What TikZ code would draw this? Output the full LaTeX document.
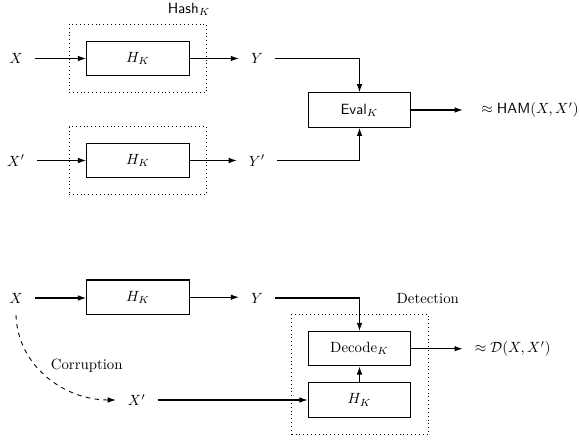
\documentclass[tikz,border=0pt]{standalone}
\usetikzlibrary{arrows.meta}
\begin{document}
\begin{tikzpicture}[x=0.675pt,y=-0.675pt,
  arr/.style={-{Latex[length=5.5pt,width=3.8pt]},line width=0.75pt},
  blk/.style={draw,line width=0.75pt,minimum width=69.3pt,minimum height=23.2pt,inner sep=0pt},
  dotbox/.style={draw,dotted,line width=0.6pt,inner sep=0pt},
  var/.style={inner sep=8pt},
  lbl/.style={inner sep=0pt}]
\useasboundingbox (0,0) rectangle (579,441);
% top part
\node[dotbox,minimum width=92.9pt,minimum height=45.9pt] (hash1) at (137.9,58.3) {};
\node[dotbox,minimum width=92.9pt,minimum height=45.6pt] (hash2) at (137.9,160.5) {};
\node[lbl] (hashlbl) at (189,9) {$\mathsf{Hash}_K$};
\node[var] (X) at (16,58.5) {$X$};
\node[blk] (hk1) at (138,58.5) {$H_K$};
\node[var] (Y) at (257,58.5) {$Y$};
\node[var] (Xp) at (16,160.5) {$X'$};
\node[blk] (hk2) at (138,160.5) {$H_K$};
\node[var] (Yp) at (257,160.5) {$Y'$};
\node[blk] (eval) at (359.5,110) {$\mathsf{Eval}_K$};
\node[lbl,anchor=west] (ham) at (481,110) {$\approx \mathsf{HAM}(X,X')$};
\draw[arr] (X) -- (hk1);
\draw[arr] (hk1) -- (Y);
\draw[arr] (Xp) -- (hk2);
\draw[arr] (hk2) -- (Yp);
\draw[arr] (Y.east) -| (eval.north);
\draw[arr] (Yp.east) -| (eval.south);
\draw[arr,shorten >=12.3pt] (eval.east) -- (ham.west);
% bottom part
\node[dotbox,minimum width=92.2pt,minimum height=80.8pt] (detbox) at (360,374.2) {};
\node[lbl] (detlbl) at (427.8,298.3) {Detection};
\node[var] (X2) at (16,298) {$X$};
\node[blk] (hk3) at (138,297.2) {$H_K$};
\node[var] (Y2) at (257,298) {$Y$};
\node[blk] (dec) at (359.5,348.7) {$\mathrm{Decode}_K$};
\node[blk] (hk4) at (359.5,400) {$H_K$};
\node[var] (Xp2) at (136.7,400) {$X'$};
\node[lbl] (corr) at (86.7,366) {Corruption};
\node[lbl,anchor=west] (dist) at (474.5,348.7) {$\approx \mathcal{D}(X,X')$};
\draw[arr] (X2.east) -- (X2.east -| hk3.west);
\draw[arr] (hk3.east) -- (hk3.east -| Y2.west);
\draw[arr] (Y2.east) -| (dec.north);
\draw[arr] (Xp2) -- (hk4);
\draw[arr] (hk4) -- (dec);
\draw[arr,shorten >=8pt] (dec.east) -- (dist.west);
\draw[arr,dashed,line width=0.6pt] (X2.south) to[out=-88,in=180] (Xp2.west);
\end{tikzpicture}
\end{document}
